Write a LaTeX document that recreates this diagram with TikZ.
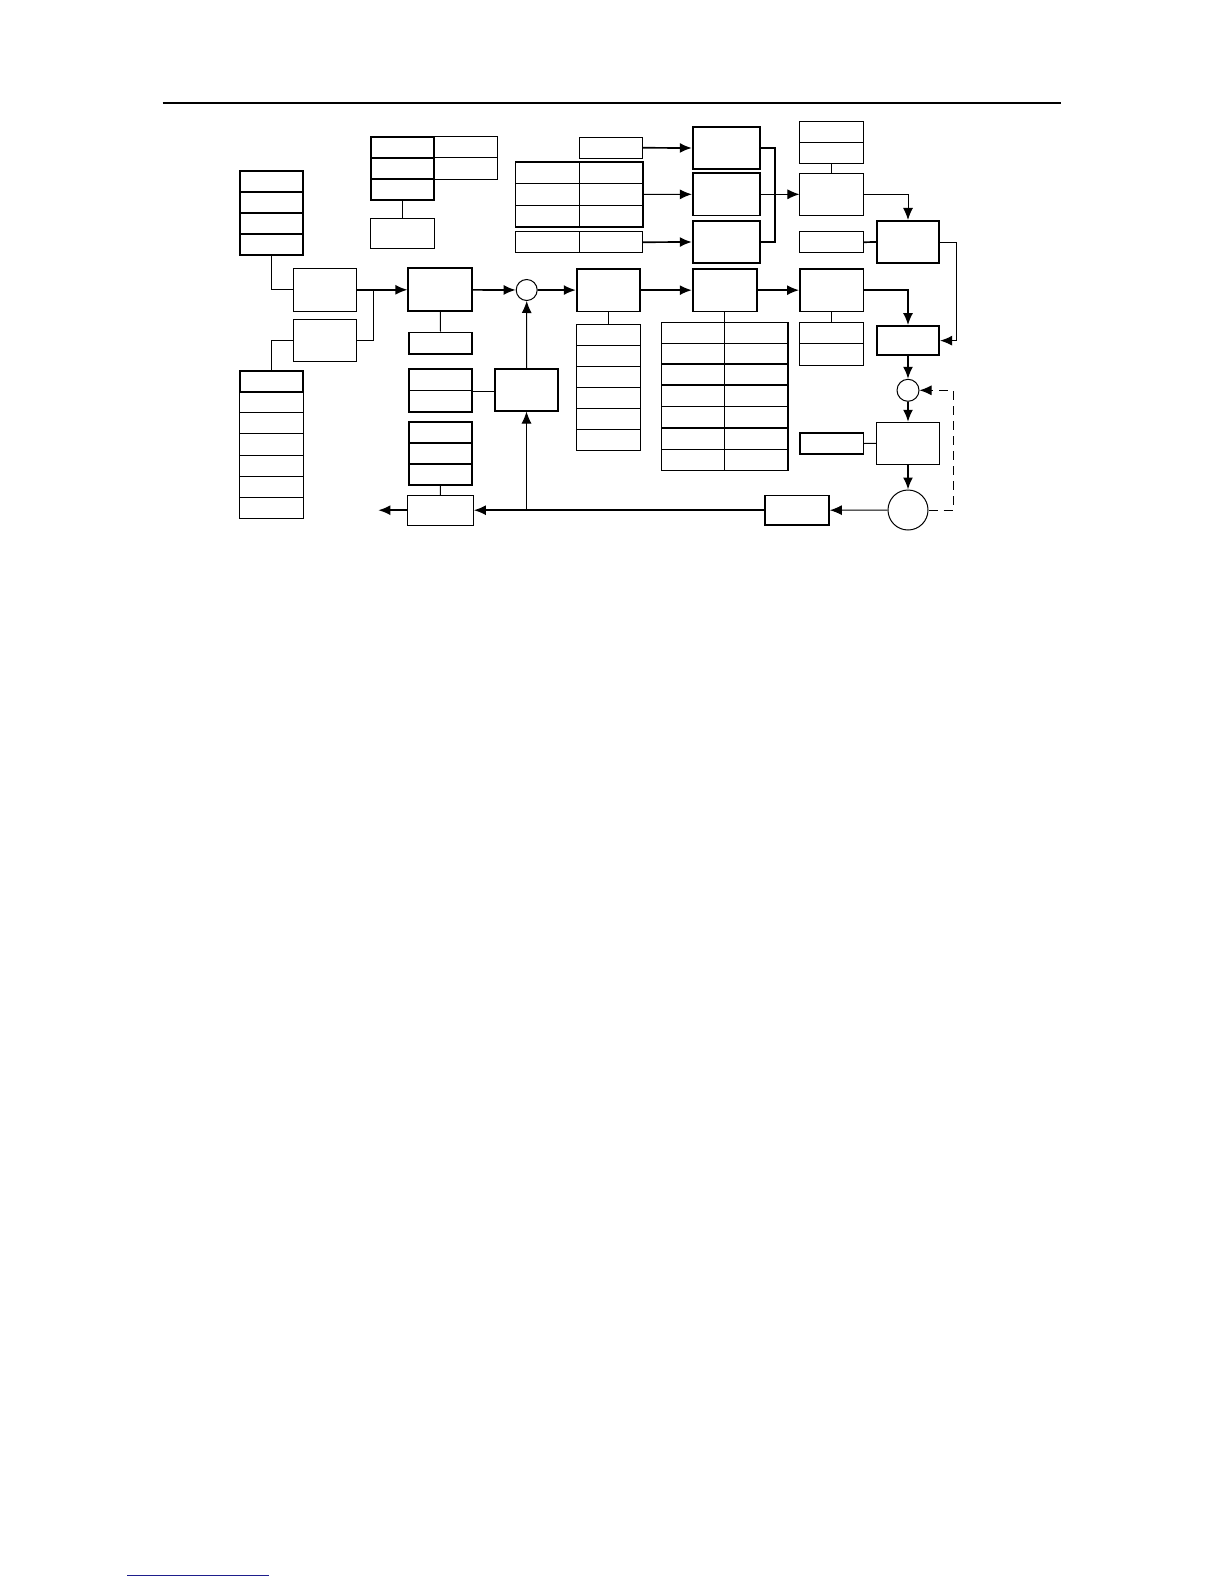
\documentclass[tikz,border=0pt]{standalone}
\usetikzlibrary{arrows.meta,positioning,calc}
\definecolor{linkblue}{RGB}{30,30,140}
\tikzset{
  blk/.style   = {shape=rectangle, draw, inner sep=0pt, line width=1pt,
                  minimum width=63.4pt, minimum height=42.4pt},
  bold/.style  = {line width=1.7pt},
  cell/.style  = {blk, minimum height=21.1pt},
  strip/.style = {blk, minimum height=29.7pt},
  sumpt/.style = {shape=circle, draw, inner sep=0pt, line width=1pt,
                  minimum size=21pt},
  wire/.style  = {line width=1pt},
  bus/.style   = {line width=1.7pt}
}

\begin{document}
\begin{tikzpicture}[x=1pt, y=-1pt, >={Latex[length=12pt,width=10pt]}]
  \useasboundingbox (0,0) rectangle (1224,1584);
  % page rules
  \draw[line width=2pt] (162.7,102.7) -- (1061,102.7);
  \draw[line width=1pt, linkblue] (127.3,1575) -- (269,1575);

  % left inputs
  \foreach \i in {1,...,4}
    \node[cell, bold] (A\i) at (271.6, {170.7+(\i-0.5)*21.1}) {};
  \node[blk] (C) at (325,289.8) {};
  \node[blk, minimum height=42pt] (D) at (325,340.3) {};
  \foreach \i in {1,...,7}
    \node[cell] (F\i) at (271.6, {370.7+(\i-0.5)*21.08}) {};
  \node[cell, bold] at (F1) {};

  % upper table
  \foreach \r in {1,2}
    \node[cell] (B\r2) at (465.65, {136.7+(\r-0.5)*21.2}) {};
  \foreach \r in {1,2,3}
    \node[cell, bold] (B\r1) at (402.35, {136.7+(\r-0.5)*21.2}) {};
  \node[blk, minimum height=30pt] (Bx) at (402.35,233.3) {};

  % controller part
  \node[blk, bold, minimum width=64pt, minimum height=43pt] (E) at (440.3,289.8) {};
  \node[cell, bold, minimum height=21.7pt] (G) at (440.5,343.2) {};
  \node[sumpt] (S1) at (526.7,290) {};
  \node[blk, bold, minimum height=41.7pt] (H) at (526.5,389.8) {};
  \foreach \r in {1,2}
    \node[cell, bold, minimum height=21.6pt] (I\r) at (440.5, {369+(\r-0.5)*21.6}) {};
  \foreach \r in {1,2,3}
    \node[cell, bold] (J\r) at (440.5, {421.7+(\r-0.5)*21.1}) {};
  \node[strip, minimum width=66pt] (K) at (440.3,510.2) {};
  \coordinate (out) at (378.3,510.2);

  % forward path
  \node[blk, bold] (M1) at (608.35,290.15) {};
  \foreach \r in {1,...,6}
    \node[cell] (L\r) at (608.35, {324.3+(\r-0.5)*21.07}) {};
  \node[blk, bold, minimum width=64pt] (M2) at (724.7,290.15) {};
  \foreach \r in {1,...,7}
    \foreach \c/\xc in {1/693.1,2/756.1}
      \node[cell, minimum width=63pt] (N\r\c) at (\xc, {322.5+(\r-0.5)*21.1}) {};
  \foreach \r in {3,...,6}
    \draw[bus] (N\r1.north west) -- (N\r2.north east);
  \draw[bus] (N12.north east) -- (N72.south east);
  \node[blk, bold] (M3) at (831.65,290.15) {};
  \foreach \r in {1,2}
    \node[cell, minimum height=21.35pt] (O\r) at (831.65, {322.3+(\r-0.5)*21.35}) {};

  % disturbance side
  \node[cell] (V) at (611,147.8) {};
  \foreach \r in {1,2,3}
    \foreach \c/\xc in {1/547.65,2/611}
      \node[cell] (W\r\c) at (\xc, {162.7+(\r-0.5)*21.2}) {};
  \draw[bus] (W11.north west) rectangle (W32.south east);
  \foreach \c/\xc in {1/547.65,2/611}
    \node[cell] (X\c) at (\xc,242.2) {};
  \node[blk, bold, minimum width=67.6pt] (U1) at (726.5,148) {};
  \node[blk, bold, minimum width=67.6pt] (U2) at (726.5,194.3) {};
  \node[blk, bold, minimum width=67.6pt] (U3) at (726.5,242) {};
  \foreach \r in {1,2}
    \node[cell, minimum height=20.8pt] (T\r) at (831.65, {121.7+(\r-0.5)*20.8}) {};
  \node[blk, minimum height=42pt] (M4) at (831.65,194.3) {};
  \node[cell] (R) at (831.65,242.2) {};
  \node[blk, bold, minimum width=62.6pt] (Q) at (908,242) {};
  \node[strip, bold, minimum width=62.6pt, minimum height=29.3pt] (P) at (908,340.65) {};

  % output part
  \node[sumpt, minimum size=22pt] (S2) at (908,390.3) {};
  \node[blk, minimum width=62.6pt, minimum height=42pt] (Y) at (908,443.3) {};
  \node[cell, bold] (Z) at (831.65,443.5) {};
  \node[sumpt, minimum size=40pt] (BC) at (908,510) {};
  \node[strip, bold, minimum width=64pt] (AA) at (797,510.2) {};

  % connectors
  \coordinate (cj) at (373.3,289.8);
  \draw[wire] (A4.south) |- (C.west);
  \draw[wire] (D.east) -| (cj);
  \draw[wire] (D.west) -| (F1.north);
  \draw[wire] (B31.south) -- (Bx.north);
  \draw[bus, ->] (C) -- (E);
  \draw[wire] (E.south) -- (G.north);
  \draw[bus, ->] (E) -- (S1);
  \draw[bus, ->] (S1) -- (M1);
  \draw[wire, ->] (H.north) -- (S1.south);
  \draw[bus] (I1.south east) -- (I1.south east -| H.west);
  \draw[wire] (J3.south) -- (K.north);
  \draw[bus, ->] (K.west) -- (out);
  \draw[wire, ->] (BC.west) -- (AA.east);
  \draw[bus, ->] (AA.west) -- (K.east);
  \draw[wire, ->] (H.south |- AA.west) -- (H.south);
  \draw[wire] (M1.south) -- (L1.north);
  \draw[bus, ->] (M1) -- (M2);
  \draw[bus, ->] (M2) -- (M3);
  \draw[wire] (M2.south) -- (M2.south |- N11.north);
  \draw[wire] (M3.south) -- (O1.north);
  \draw[bus, ->] (M3.east) -| (P.north);
  \draw[wire, ->] (Q.east) -- ++(16.7,0) |- (P.east);
  \draw[bus] (R.east) -- (Q.west);
  \draw[wire, ->] (M4.east) -| (Q.north);
  \draw[wire] (T2.south) -- (M4.north);
  \draw[bus] (U1.east) -- ++(14,0) |- (U3.east);
  \draw[wire, ->] (U2.east) -- (M4.west);
  \draw[bus, ->] (V.east) -- (U1.west);
  \draw[wire, ->] (W22.east) -- (U2.west);
  \draw[bus, ->] (X2.east) -- (U3.west);
  \draw[bus, ->] (P.south) -- (S2.north);
  \draw[bus, ->] (S2.south) -- (Y.north);
  \draw[bus, ->] (Y.south) -- (BC.north);
  \draw[wire] (Z.east) -- (Y.west);
  \draw[wire, dashed, dash pattern=on 9pt off 6pt, ->] (BC.east) -- ++(24.7,0) |- (S2.east);
\end{tikzpicture}
\end{document}
